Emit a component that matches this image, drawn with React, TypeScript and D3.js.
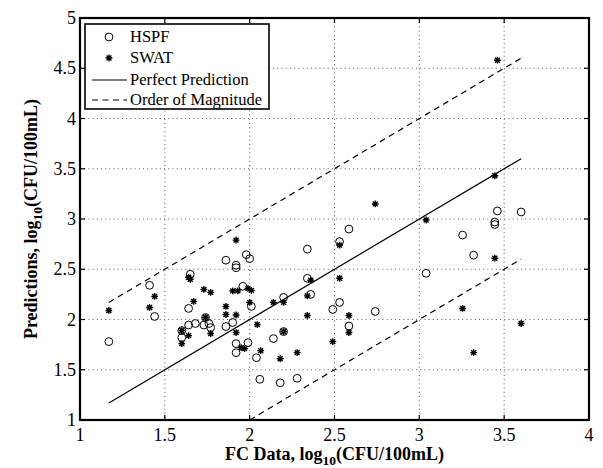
import React from "react";
import * as d3 from "d3";

const hspfX = [1.17,1.41,1.44,1.60,1.60,1.64,1.65,1.64,1.68,1.73,1.74,1.76,1.77,1.86,1.86,1.90,1.92,1.92,1.98,2.00,1.96,2.01,1.92,1.92,1.99,2.04,2.06,2.14,2.18,2.20,2.20,2.28,2.34,2.34,2.36,2.49,2.53,2.585,2.53,2.585,2.74,3.04,3.255,3.32,3.445,3.445,3.46,3.60];
const hspfY = [1.78,2.34,2.03,1.89,1.82,2.11,2.45,1.945,1.96,1.945,2.02,1.96,1.92,2.59,1.93,1.97,2.54,2.515,2.645,2.605,2.33,2.13,1.76,1.67,1.77,1.62,1.405,1.81,1.37,1.88,2.22,1.415,2.70,2.41,2.25,2.10,2.775,2.90,2.17,1.935,2.08,2.46,2.84,2.64,2.97,2.945,3.08,3.07];
const swatX = [1.17,1.41,1.44,1.60,1.60,1.64,1.64,1.65,1.67,1.73,1.74,1.77,1.77,1.86,1.86,1.92,1.92,1.92,1.90,1.93,1.99,2.01,2.00,1.95,1.97,2.045,2.065,2.14,2.18,2.20,2.20,2.28,2.34,2.36,2.34,2.49,2.53,2.53,2.585,2.585,2.74,3.04,3.255,3.32,3.445,3.445,3.46,3.60];
const swatY = [2.09,2.12,2.23,1.89,1.76,1.84,2.42,2.40,2.18,2.30,2.02,2.27,1.86,2.13,2.05,2.045,1.87,2.79,2.285,2.285,2.31,2.29,2.17,1.72,1.71,1.95,1.69,2.17,1.61,1.88,2.17,1.67,2.235,2.39,2.04,1.78,2.74,2.41,2.04,1.87,3.15,2.99,2.11,1.67,3.43,2.61,4.58,1.96];
const lineX = [1.17, 3.6];
const lowerX = [2.0, 3.6];
const ticks = [1, 1.5, 2, 2.5, 3, 3.5, 4];
const yTicks = [1, 1.5, 2, 2.5, 3, 3.5, 4, 4.5, 5];
const legendLabels = ["HSPF", "SWAT", "Perfect Prediction", "Order of Magnitude"];

const W = 603, H = 468;
const L = 80, R = 589, T = 18, B = 420;
const FONT = "Liberation Serif, Times New Roman, Times, DejaVu Serif, serif";

function star(x: number, y: number, s = 3.4) {
  const d = s * 0.72;
  return `M${x - s},${y}L${x + s},${y}M${x},${y - s}L${x},${y + s}M${x - d},${y - d}L${x + d},${y + d}M${x - d},${y + d}L${x + d},${y - d}`;
}

export default function App() {
  const x = d3.scaleLinear().domain([1, 4]).range([L, R]);
  const y = d3.scaleLinear().domain([1, 5]).range([B, T]);
  const perfect = d3.line<number>().x((v) => x(v)).y((v) => y(v));
  const upper = d3.line<number>().x((v) => x(v)).y((v) => y(v + 1));
  const lower = d3.line<number>().x((v) => x(v)).y((v) => y(v - 1));
  const lx = 85, ly = 24, lw = 184, lh = 85;
  const rows = [37, 58, 80, 100];
  const ts = { fontFamily: FONT };
  return (
    <svg width={W} height={H} style={{ position: "absolute", left: 0, top: 0, background: "#fff", fontFamily: FONT }}>
      <rect x={0} y={0} width={W} height={H} fill="#fff" />
      <defs>
        <clipPath id="clip"><rect x={L} y={T} width={R - L} height={B - T} /></clipPath>
      </defs>
      <g stroke="#333" strokeWidth={0.8} strokeDasharray="1,3.2">
        {ticks.slice(1, -1).map((t) => (
          <line key={"gx" + t} x1={x(t)} x2={x(t)} y1={T} y2={B} />
        ))}
        {yTicks.slice(1, -1).map((t) => (
          <line key={"gy" + t} x1={L} x2={R} y1={y(t)} y2={y(t)} />
        ))}
      </g>
      <g clipPath="url(#clip)" fill="none" stroke="#000">
        <path d={perfect(lineX) || ""} strokeWidth={1.2} />
        <path d={upper(lineX) || ""} strokeWidth={1.2} strokeDasharray="6,4.5" />
        <path d={lower(lowerX) || ""} strokeWidth={1.2} strokeDasharray="6,4.5" />
      </g>
      <g fill="none" stroke="#000" strokeWidth={1}>
        {hspfX.map((v, i) => (
          <circle key={"h" + i} cx={x(v)} cy={y(hspfY[i])} r={3.9} />
        ))}
      </g>
      <g fill="none" stroke="#000" strokeWidth={1.4}>
        {swatX.map((v, i) => (
          <path key={"s" + i} d={star(x(v), y(swatY[i]))} />
        ))}
      </g>
      <g stroke="#000" strokeWidth={1.2}>
        {ticks.map((t) => (
          <g key={"tx" + t}>
            <line x1={x(t)} x2={x(t)} y1={B} y2={B - 5} />
            <line x1={x(t)} x2={x(t)} y1={T} y2={T + 5} />
          </g>
        ))}
        {yTicks.map((t) => (
          <g key={"ty" + t}>
            <line x1={L} x2={L + 5} y1={y(t)} y2={y(t)} />
            <line x1={R} x2={R - 5} y1={y(t)} y2={y(t)} />
          </g>
        ))}
      </g>
      <rect x={L} y={T} width={R - L} height={B - T} fill="none" stroke="#000" strokeWidth={2.2} />
      <g fontSize={18} fill="#000">
        {ticks.map((t) => (
          <text key={"lx" + t} style={ts} x={x(t)} y={B + 21} textAnchor="middle">{String(t)}</text>
        ))}
        {yTicks.map((t) => (
          <text key={"ly" + t} style={ts} x={L - 4} y={y(t) + 6} textAnchor="end">{String(t)}</text>
        ))}
      </g>
      <text style={ts} x={(L + R) / 2} y={460} textAnchor="middle" fontSize={18} fontWeight="bold">
        FC Data, log<tspan fontSize={13.5} dy={5}>10</tspan><tspan dy={-5}>(CFU/100mL)</tspan>
      </text>
      <text style={ts} transform={`translate(37,${(T + B) / 2}) rotate(-90)`} textAnchor="middle" fontSize={18} fontWeight="bold">
        Predictions, log<tspan fontSize={13.5} dy={5}>10</tspan><tspan dy={-5}>(CFU/100mL)</tspan>
      </text>
      <rect x={lx} y={ly} width={lw} height={lh} fill="#fff" stroke="#000" strokeWidth={1.6} />
      <circle cx={109} cy={rows[0]} r={3.9} fill="none" stroke="#000" strokeWidth={1} />
      <path d={star(109, rows[1])} stroke="#000" strokeWidth={1.4} />
      <line x1={92} x2={127} y1={rows[2]} y2={rows[2]} stroke="#000" strokeWidth={1.2} />
      <line x1={92} x2={127} y1={rows[3]} y2={rows[3]} stroke="#000" strokeWidth={1.2} strokeDasharray="6,4.5" />
      <g fontSize={16.5} fill="#000">
        {legendLabels.map((s, i) => (
          <text key={s} style={ts} x={130} y={rows[i] + 5}>{s}</text>
        ))}
      </g>
    </svg>
  );
}
